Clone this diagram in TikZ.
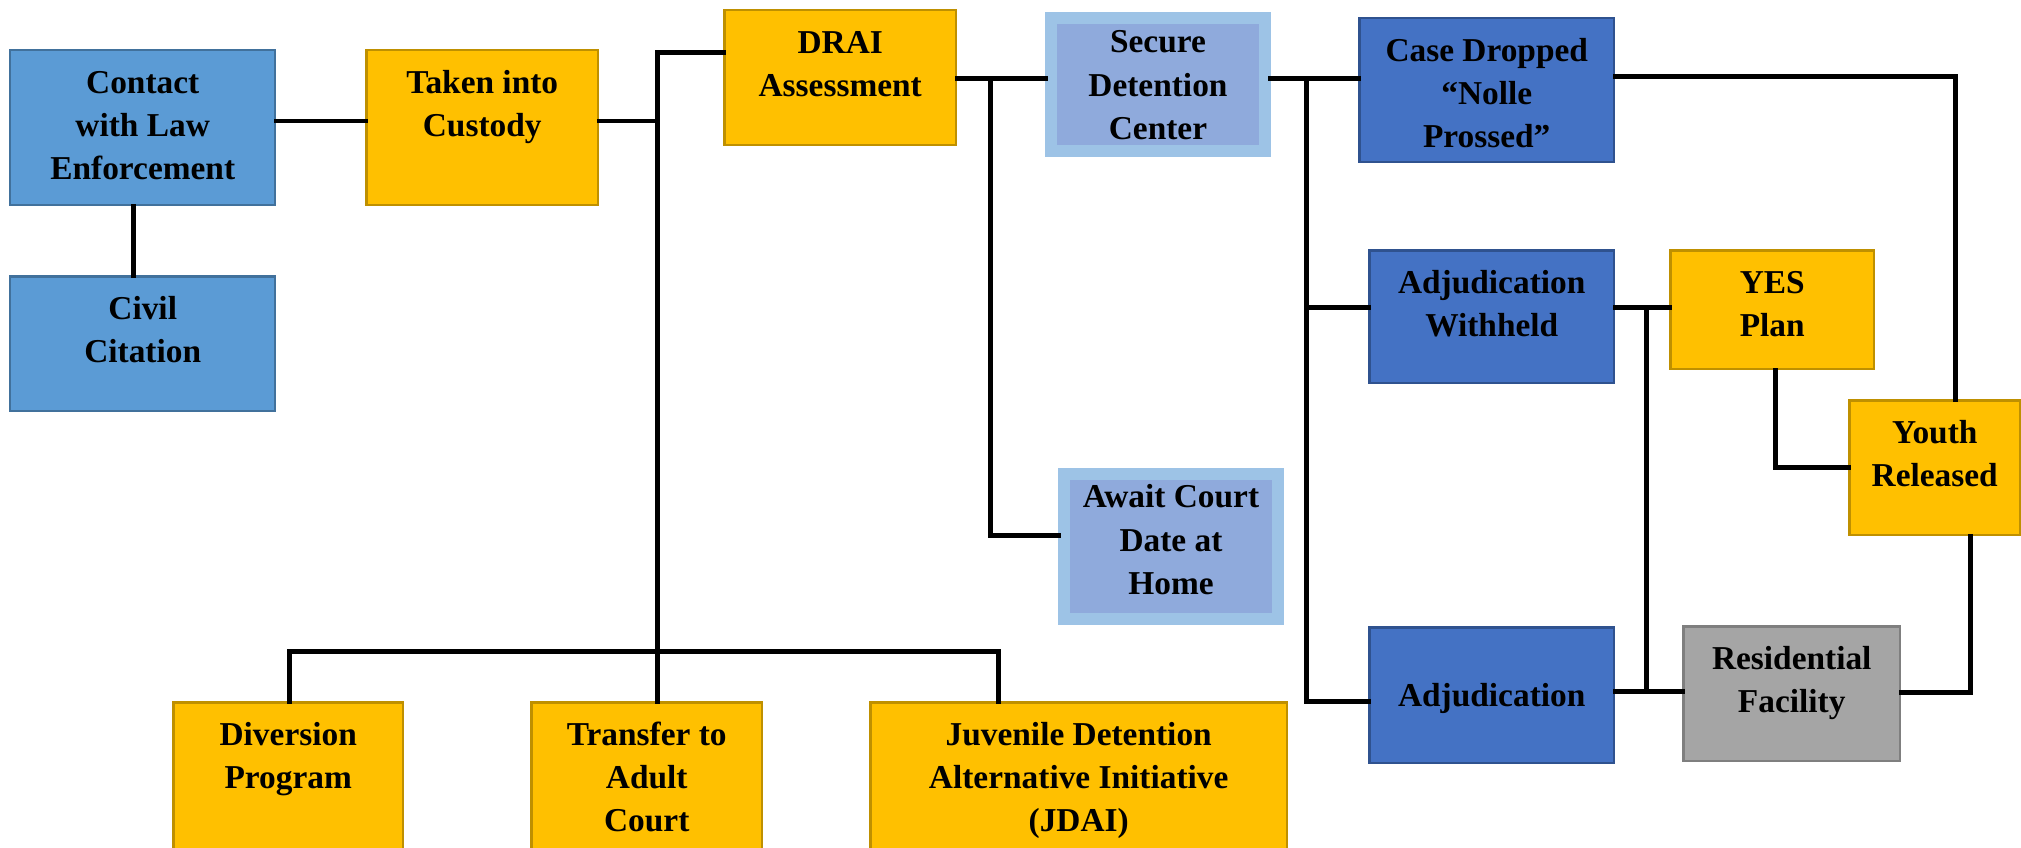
\documentclass[tikz,border=0pt]{standalone}
\usepackage{fontspec}
\setmainfont{Liberation Serif}
\usepackage{tikz}
\usetikzlibrary{positioning}
\definecolor{skyfill}{HTML}{5B9BD5}
\definecolor{skyline}{HTML}{41719C}
\definecolor{goldfill}{HTML}{FFC000}
\definecolor{goldline}{HTML}{BF9000}
\definecolor{navyfill}{HTML}{4472C4}
\definecolor{navyline}{HTML}{2F528F}
\definecolor{greyfill}{HTML}{A5A5A5}
\definecolor{greyline}{HTML}{7F7F7F}
\definecolor{palefill}{HTML}{8FAADC}
\definecolor{paleline}{HTML}{9DC3E6}
\tikzset{base node/.style={rectangle,draw,line width=0.05cm,anchor=north west,inner sep=0pt,align=flush center,text height=0.86cm,font=\bfseries\fontsize{19}{24.5}\selectfont},
  cell/.style 2 args={text width=#1,text depth=#2},
  sky node/.style={base node,fill=skyfill,draw=skyline},
  gold node/.style={base node,fill=goldfill,draw=goldline},
  navy node/.style={base node,fill=navyfill,draw=navyline},
  grey node/.style={base node,fill=greyfill,draw=greyline},
  pale node/.style={base node,fill=palefill,draw=paleline,line width=0.24cm},}

\begin{document}
\begin{tikzpicture}[x=0.02cm,y=-0.02cm,line width=0.1cm,line cap=rect]
    \useasboundingbox (0,0) rectangle (2021,848);
    \node[sky node, cell={5.3cm}{2.24cm}] (1) at (9,49) {Contact\\with Law\\Enforcement};
    \node[sky node, cell={5.3cm}{1.84cm}] (2) at (9,275) {Civil\\Citation};
    \node[gold node, cell={4.64cm}{2.24cm}] (3) at (365,49) {Taken into\\Custody};
    \node[gold node, cell={4.64cm}{1.84cm}] (4) at (723,9) {DRAI\\Assessment};
    \node[pale node, cell={4.28cm}{1.96cm}, text height=0.7cm] (5) at (1045,12) {Secure\\Detention\\Center};
    \node[pale node, cell={4.28cm}{2.22cm}, text height=0.68cm] (6) at (1058,468) {Await Court\\Date at\\Home};
    \node[navy node, cell={5.1cm}{2.02cm}] (7) at (1358,17) {Case Dropped\\“Nolle\\Prossed”};
    \node[navy node, cell={4.9cm}{1.8cm}] (8) at (1368,249) {Adjudication\\Withheld};
    \node[gold node, cell={4.08cm}{1.52cm}] (9) at (1669,249) {YES\\Plan};
    \node[navy node, cell={4.9cm}{1.14cm}, text height=1.58cm] (10) at (1368,626) {Adjudication};
    \node[gold node, cell={3.42cm}{1.84cm}] (11) at (1848,399) {Youth\\Released};
    \node[grey node, cell={4.34cm}{1.84cm}] (12) at (1682,625) {Residential\\Facility};
    \node[gold node, cell={4.6cm}{2.08cm}] (13) at (172,701) {Diversion\\Program};
    \node[gold node, cell={4.62cm}{2.08cm}] (14) at (530,701) {Transfer to\\Adult\\Court};
    \node[gold node, cell={8.34cm}{2.08cm}] (15) at (869,701) {Juvenile Detention\\Alternative Initiative\\(JDAI)};

    \coordinate (k1) at (133,240);
    \coordinate (t1) at (657,53);
    \coordinate (t2) at (657,121);
    \coordinate (t3) at (657,651);
    \coordinate (b1) at (289,651);
    \coordinate (b2) at (998,651);
    \coordinate (s1) at (990,79);
    \coordinate (s2) at (990,535);
    \coordinate (c1) at (1306,79);
    \coordinate (c2) at (1306,307);
    \coordinate (c3) at (1306,701);
    \coordinate (r1) at (1955,77);
    \coordinate (a1) at (1646,307);
    \coordinate (a2) at (1646,691);
    \coordinate (y1) at (1775,467);
    \coordinate (y2) at (1970,692);

    \draw (1.east |- t2) -- (3.west |- t2);
    \draw (1.south -| k1) -- (2.north -| k1);
    \draw (3.east |- t2) -- (t2);
    \draw (t1) -- (t3);
    \draw (t1) -- (4.west |- t1);
    \draw (b1 |- 13.north) -- (b1) -- (b2) -- (b2 |- 15.north);
    \draw (t3) -- (t3 |- 14.north);
    \draw (4.east |- s1) -- (5.west |- s1);
    \draw (s1) -- (s2) -- (6.west |- s2);
    \draw (5.east |- c1) -- (7.west |- c1);
    \draw (c1) -- (c3) -- (10.west |- c3);
    \draw (c2) -- (8.west |- c2);
    \draw (7.east |- r1) -- (r1) -- (r1 |- 11.north);
    \draw (8.east |- a1) -- (9.west |- a1);
    \draw (a1) -- (a2);
    \draw (10.east |- a2) -- (12.west |- a2);
    \draw (9.south -| y1) -- (y1) -- (11.west |- y1);
    \draw (11.south -| y2) -- (y2) -- (12.east |- y2);
\end{tikzpicture}
\end{document}
